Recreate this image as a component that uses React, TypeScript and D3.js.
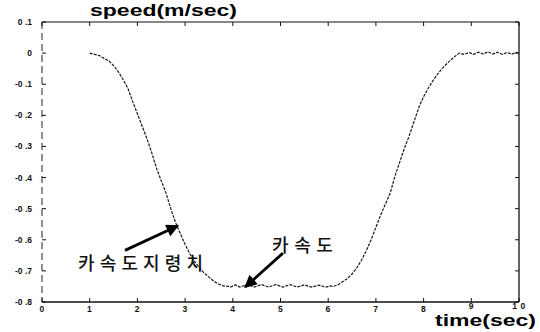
import React from "react";
import * as d3 from "d3";

const W = 540;
const H = 332;

const xTicks = [0, 1, 2, 3, 4, 5, 6, 7, 8, 9, 10];
const yTicks = [0.1, 0, -0.1, -0.2, -0.3, -0.4, -0.5, -0.6, -0.7, -0.8];
const yTickLabels = ["0 .1", "0", "-0 .1", "-0 .2", "-0 .3", "-0 .4", "-0 .5", "-0 .6", "-0 .7", "-0 .8"];

const times = [
  1.0, 1.2, 1.4, 1.5, 1.6, 1.7, 1.8, 1.9, 2.0, 2.1, 2.2, 2.3, 2.4, 2.5, 2.6, 2.7, 2.8, 2.9,
  3.0, 3.1, 3.2, 3.3, 3.4, 3.5, 3.6, 3.7, 3.8, 3.9,
  3.95, 4.05, 4.15, 4.3, 4.45, 4.6, 4.75, 4.9, 5.05, 5.2, 5.35, 5.5, 5.65, 5.8, 5.95, 6.05,
  6.1, 6.2, 6.3, 6.4, 6.5, 6.6, 6.7, 6.8, 6.9, 7.0, 7.1, 7.2, 7.3, 7.4, 7.5, 7.6, 7.7, 7.8,
  7.9, 8.0, 8.1, 8.2, 8.3, 8.4, 8.5, 8.6, 8.7,
  8.75, 8.85, 8.95, 9.05, 9.15, 9.25, 9.35, 9.45, 9.55, 9.65, 9.75, 9.85, 9.95, 10.0,
];
const speeds = [
  0, -0.008, -0.025, -0.04, -0.06, -0.085, -0.113, -0.155, -0.195, -0.235, -0.275, -0.32, -0.37,
  -0.41, -0.45, -0.5, -0.545, -0.58, -0.615, -0.645, -0.67, -0.69, -0.707, -0.72, -0.733, -0.742,
  -0.748, -0.75,
  -0.752, -0.745, -0.752, -0.744, -0.752, -0.744, -0.752, -0.744, -0.752, -0.744, -0.752, -0.745,
  -0.752, -0.746, -0.752, -0.748,
  -0.75, -0.745, -0.735, -0.725, -0.71, -0.69, -0.665, -0.635, -0.6, -0.56, -0.52, -0.485, -0.45,
  -0.395, -0.35, -0.305, -0.265, -0.22, -0.175, -0.14, -0.112, -0.088, -0.066, -0.048, -0.032,
  -0.018, -0.005,
  0, -0.004, 0.002, -0.004, 0.003, -0.003, 0.004, -0.003, 0.003, -0.004, 0.002, -0.003, 0.002, 0,
];

// annotations in data coordinates
const annoLabels = [
  { text: "카속도지령치", t: 0.755, v: -0.696, len: 125 },
  { text: "카속도", t: 4.82, v: -0.638, len: 61 },
];
const annoArrows = [
  { t0: 1.74, v0: -0.634, t1: 2.85, v1: -0.555 },
  { t0: 5.05, v0: -0.643, t1: 4.26, v1: -0.752 },
];

export default function App() {
  const x = d3.scaleLinear().domain([0, 10]).range([42, 519]);
  const y = d3.scaleLinear().domain([-0.8, 0.1]).range([302, 22]);
  const pts: [number, number][] = times.map((t, i) => [t, speeds[i]]);
  const line = d3
    .line<[number, number]>()
    .x((d) => x(d[0]))
    .y((d) => y(d[1]))
    .curve(d3.curveLinear);

  const [x0, x1] = x.range();
  const [yb, yt] = y.range();
  const tl = 4;
  const numFont = "Arial, 'Liberation Sans', sans-serif";

  return (
    <svg
      width={W}
      height={H}
      style={{ position: "absolute", left: 0, top: 0, background: "#fff" }}
    >
      <defs>
        <marker
          id="ah"
          viewBox="0 0 10 10"
          refX="9"
          refY="5"
          markerWidth="5"
          markerHeight="4.5"
          orient="auto"
          markerUnits="strokeWidth"
        >
          <path d="M0,0 L10,5 L0,10 z" fill="#000" />
        </marker>
      </defs>

      {/* frame */}
      <line x1={x0} x2={x1} y1={yt} y2={yt} stroke="#111" strokeWidth={1.2} />
      <line x1={x0} x2={x1} y1={yb} y2={yb} stroke="#111" strokeWidth={1.3} />
      <line x1={x1} x2={x1} y1={yt} y2={yb} stroke="#111" strokeWidth={1.3} />
      <line x1={x0} x2={x0} y1={yt} y2={yb} stroke="#222" strokeWidth={1} strokeDasharray="7,4" />

      {/* x ticks */}
      {xTicks.map((t) => (
        <g key={"xt" + t}>
          <line x1={x(t)} x2={x(t)} y1={yb} y2={yb - tl} stroke="#111" strokeWidth={1} />
          <line x1={x(t)} x2={x(t)} y1={yt} y2={yt + tl} stroke="#111" strokeWidth={1} />
          <text
            x={x(t)}
            y={t >= 9 ? yb + 7 : yb + 10}
            textAnchor="middle"
            fontFamily={numFont}
            fontWeight="bold"
            fontSize={8.5}
            letterSpacing={0.5}
            fill="#111"
          >
            {t === 10 ? "1 0" : String(t)}
          </text>
        </g>
      ))}

      {/* y ticks */}
      {yTicks.map((v, i) => (
        <g key={"yt" + i}>
          <line x1={x0} x2={x0 + tl} y1={y(v)} y2={y(v)} stroke="#111" strokeWidth={1} />
          <line x1={x1} x2={x1 - tl} y1={y(v)} y2={y(v)} stroke="#111" strokeWidth={1} />
          <text
            x={32}
            y={y(v) + 3}
            textAnchor="end"
            fontFamily={numFont}
            fontWeight="bold"
            fontSize={8.5}
            fill="#111"
          >
            {yTickLabels[i]}
          </text>
        </g>
      ))}

      {/* data */}
      <path
        d={line(pts) || ""}
        fill="none"
        stroke="#1a1a1a"
        strokeWidth={1.2}
        strokeDasharray="3,1.2"
      />

      {/* arrows */}
      {annoArrows.map((a, i) => (
        <line
          key={"ar" + i}
          x1={x(a.t0)}
          y1={y(a.v0)}
          x2={x(a.t1)}
          y2={y(a.v1)}
          stroke="#000"
          strokeWidth={2.8}
          markerEnd="url(#ah)"
        />
      ))}

      {/* annotation labels */}
      {annoLabels.map((l, i) => (
        <text
          key={"al" + i}
          x={x(l.t)}
          y={y(l.v)}
          fontFamily="'Noto Sans CJK KR', sans-serif"
          fontSize={18}
          fontWeight={500}
          fill="#111"
          textLength={l.len}
          lengthAdjust="spacing"
        >
          {l.text}
        </text>
      ))}

      {/* titles */}
      <text
        x={90}
        y={16}
        fontFamily={numFont}
        fontWeight="bold"
        fontSize={17}
        fill="#000"
        textLength={147}
        lengthAdjust="spacingAndGlyphs"
      >
        speed(m/sec)
      </text>
      <text
        x={435}
        y={326}
        fontFamily={numFont}
        fontWeight="bold"
        fontSize={17}
        fill="#000"
        textLength={101}
        lengthAdjust="spacingAndGlyphs"
      >
        time(sec)
      </text>
    </svg>
  );
}
